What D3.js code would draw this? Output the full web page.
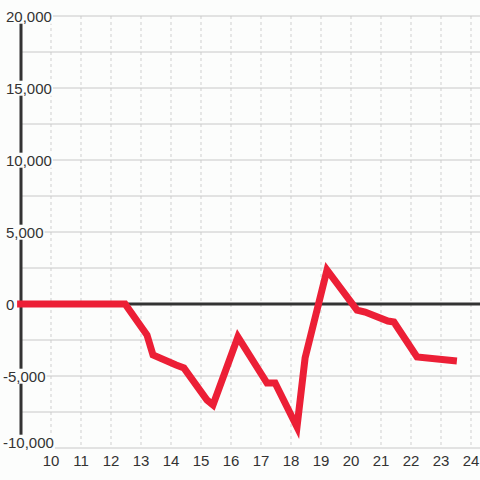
<!DOCTYPE html>
<html>
<head>
<meta charset="utf-8">
<script src="https://cdn.jsdelivr.net/npm/d3@7"></script>
<style>
  body { margin: 0; background: #fcfdfc; }
  svg { display: block; font-family: "Liberation Sans", Arial, sans-serif; }
</style>
</head>
<body>
<div id="chart"></div>
<script>
// Series
const hours = [8.87, 12.47, 13.2, 13.4, 14.17, 14.43, 15.2, 15.4, 16.23, 17.2, 17.47, 18.2, 18.47, 19.2, 20.2, 20.47, 21.23, 21.43, 22.2, 23.53];
const values = [0, 0, -2150, -3540, -4240, -4440, -6670, -7010, -2290, -5490, -5490, -8540, -3750, 2360, -420, -560, -1180, -1250, -3680, -3960];
const xTicks = [10, 11, 12, 13, 14, 15, 16, 17, 18, 19, 20, 21, 22, 23, 24];
const yTicks = [-10000, -5000, 0, 5000, 10000, 15000, 20000];
const yGrid = [-10000, -7500, -5000, -2500, 2500, 5000, 7500, 10000, 12500, 15000, 17500, 20000];

const width = 480, height = 480;
const svg = d3.select('#chart').append('svg')
    .attr('width', width)
    .attr('height', height);

const x = d3.scaleLinear().domain([9, 24.3]).range([21, 480]);
const y = d3.scaleLinear().domain([-10000, 20000]).range([448, 16]);

// vertical dashed grid
svg.append('g').selectAll('line')
    .data(xTicks)
    .join('line')
    .attr('x1', d => x(d)).attr('x2', d => x(d))
    .attr('y1', y(20000)).attr('y2', y(-10000))
    .attr('stroke', '#cfcfcf')
    .attr('stroke-dasharray', '3,3');

// horizontal grid
svg.append('g').selectAll('line')
    .data(yGrid)
    .join('line')
    .attr('x1', x(9)).attr('x2', width)
    .attr('y1', d => y(d)).attr('y2', d => y(d))
    .attr('stroke', '#c8c8c8');

// zero line
svg.append('line')
    .attr('x1', x(9)).attr('x2', width)
    .attr('y1', y(0)).attr('y2', y(0))
    .attr('stroke', '#333')
    .attr('stroke-width', 3);

// y axis line
svg.append('line')
    .attr('x1', x(9)).attr('x2', x(9))
    .attr('y1', y(20000)).attr('y2', y(-10000))
    .attr('stroke', '#333')
    .attr('stroke-width', 3);

// data line
const line = d3.line()
    .x((d, i) => x(hours[i]))
    .y(d => y(d));
svg.append('path')
    .datum(values)
    .attr('d', line)
    .attr('fill', 'none')
    .attr('stroke', '#ec1f36')
    .attr('stroke-width', 7)
    .attr('stroke-linejoin', 'miter');

// y labels with a background box; the bottom one sits a bit higher
const fmt = d3.format(',');
const yLab = svg.append('g').selectAll('g')
    .data(yTicks)
    .join('g');
yLab.append('text')
    .attr('x', d => d < 0 ? 3 : 6)
    .attr('y', d => y(d) - (d === -10000 ? 6 : 0))
    .attr('dy', '0.38em')
    .attr('font-size', 15)
    .attr('fill', '#333')
    .text(d => fmt(d).replace('−', '-'));
yLab.each(function() {
    const g = d3.select(this);
    const b = g.select('text').node().getBBox();
    g.insert('rect', 'text')
        .attr('x', b.x - 1).attr('y', b.y + 1)
        .attr('width', b.width + 2).attr('height', b.height - 2)
        .attr('fill', '#fcfdfc');
});

// x labels
svg.append('g').selectAll('text')
    .data(xTicks)
    .join('text')
    .attr('x', d => x(d))
    .attr('y', 466)
    .attr('text-anchor', 'middle')
    .attr('font-size', 15)
    .attr('fill', '#333')
    .text(d => d);
</script>
</body>
</html>
